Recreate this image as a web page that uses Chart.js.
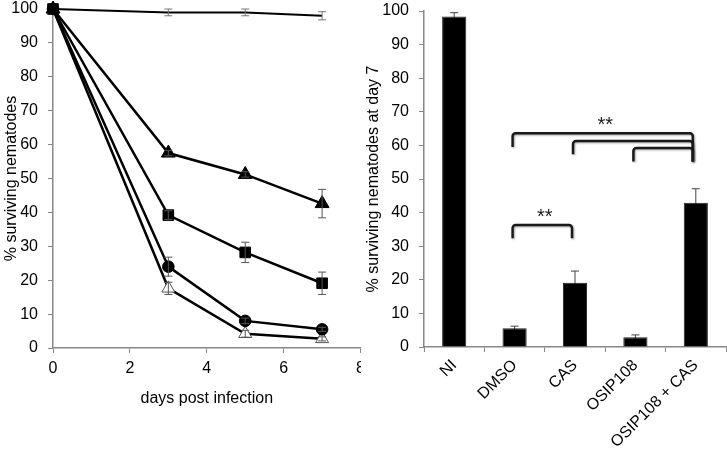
<!DOCTYPE html>
<html>
<head>
<meta charset="utf-8">
<script src="https://cdn.jsdelivr.net/npm/chart.js@4.4.1/dist/chart.umd.min.js"></script>
<style>
  body { margin: 0; background: #fff; }
  #wrap { position: relative; width: 727px; height: 449px; overflow: hidden; }
  #leftBox { position: absolute; left: 0; top: 0; width: 361px; height: 449px; overflow: hidden; }
  #barChart { position: absolute; top: 0; left: 362px; }
</style>
</head>
<body>
<div id="wrap">
  <div id="leftBox"><canvas id="lineChart" width="371" height="449"></canvas></div>
  <canvas id="barChart" width="365" height="449"></canvas>
</div>
<script>
// survival over time (left panel)
const days = [0, 3, 5, 7];
const niSurvival = [100, 99, 99, 98];
const niErr = [0, 1, 1, 1.2];
const osipCasSurvival = [100, 57.5, 51.2, 42.6];
const osipCasErr = [0, 0.8, 0.8, 4.2];
const casSurvival = [100, 39.2, 28.2, 19.1];
const casErr = [0, 1.3, 3, 3.3];
const dmsoSurvival = [100, 24, 8, 5.5];
const dmsoErr = [0, 2.8, 0.8, 0.6];
const osipSurvival = [100, 17.6, 4.2, 2.7];
const osipErr = [0, 1.8, 1, 0.6];

// survival at day 7 (right panel)
const barLabels = ['NI', 'DMSO', 'CAS', 'OSIP108', 'OSIP108 + CAS'];
const barValues = [98.4, 5.6, 19.1, 2.9, 42.9];
const barErr = [1.1, 0.6, 3.5, 0.7, 4.2];

// significance brackets (category index, value units)
const bracketFrom = [1, 2, 3, 1];
const bracketTo = [4, 4, 4, 2];
const bracketTop = [63.6, 61.3, 59.2, 36.3];
const bracketLeftEnd = [59.5, 57.4, 55.2, 32.4];
const bracketRightEnd = [55.2, 55.2, 55.2, 32.4];
const starLabels = ['**', '**'];
const starAt = [2.5, 1.5];
const starValue = [64.4, 36.8];

Chart.defaults.font.family = '"Liberation Sans", Arial, sans-serif';
Chart.defaults.font.size = 16;
Chart.defaults.color = '#000';
Chart.defaults.animation = false;

function pts(vals) {
    return days.map((d, i) => ({x: d, y: vals[i]}));
}

// error bars from dataset.errors, positioned with the chart's own scales
function drawErrors(chart) {
    const ctx = chart.ctx;
    const y = chart.scales.y;
    chart.data.datasets.forEach((ds, di) => {
        if (!ds.errors) return;
        const meta = chart.getDatasetMeta(di);
        meta.data.forEach((el, i) => {
            const e = ds.errors[i];
            if (!e) return;
            const v = ds.data[i].y !== undefined ? ds.data[i].y : ds.data[i];
            const top = y.getPixelForValue(v + e);
            const bot = y.getPixelForValue(v - e);
            ctx.save();
            ctx.strokeStyle = ds.errorColor || '#555';
            ctx.lineWidth = 1;
            ctx.beginPath();
            ctx.moveTo(el.x, top);
            ctx.lineTo(el.x, bot);
            ctx.moveTo(el.x - 4, top);
            ctx.lineTo(el.x + 4, top);
            ctx.moveTo(el.x - 4, bot);
            ctx.lineTo(el.x + 4, bot);
            ctx.stroke();
            ctx.restore();
        });
    });
}

const errorsOnTop = {id: 'errorsOnTop', afterDatasetsDraw: drawErrors};
const errorsBehind = {id: 'errorsBehind', beforeDatasetsDraw: drawErrors};

const brackets = {
    id: 'brackets',
    afterDatasetsDraw(chart) {
        const ctx = chart.ctx;
        const xs = chart.scales.x, ys = chart.scales.y;
        ctx.save();
        ctx.strokeStyle = '#1a1a1a';
        ctx.lineWidth = 2.5;
        ctx.lineJoin = 'round';
        ctx.shadowColor = 'rgba(0,0,0,0.35)';
        ctx.shadowBlur = 2;
        ctx.shadowOffsetX = 1;
        ctx.shadowOffsetY = 1;
        bracketFrom.forEach((f, i) => {
            const x1 = xs.getPixelForValue(f) - 2;
            const x2 = xs.getPixelForValue(bracketTo[i]) - 3;
            const yt = ys.getPixelForValue(bracketTop[i]);
            ctx.beginPath();
            ctx.moveTo(x1, ys.getPixelForValue(bracketLeftEnd[i]));
            ctx.arcTo(x1, yt, x2, yt, 3);
            ctx.arcTo(x2, yt, x2, ys.getPixelForValue(bracketRightEnd[i]), 3);
            ctx.lineTo(x2, ys.getPixelForValue(bracketRightEnd[i]));
            ctx.stroke();
        });
        ctx.shadowColor = 'transparent';
        ctx.fillStyle = '#222';
        ctx.font = '20px "Liberation Sans", Arial, sans-serif';
        ctx.textAlign = 'center';
        ctx.textBaseline = 'alphabetic';
        starLabels.forEach((s, i) => {
            ctx.fillText(s, xs.getPixelForValue(starAt[i]), ys.getPixelForValue(starValue[i]));
        });
        ctx.restore();
    }
};

const axisGrid = {drawOnChartArea: false, drawTicks: true, tickLength: 5, color: '#888'};
const axisBorder = {display: true, color: '#888', width: 1.5};

new Chart(document.getElementById('lineChart'), {
    type: 'scatter',
    data: {
        datasets: [
            {
                data: pts(niSurvival), errors: niErr, errorColor: '#777',
                showLine: true, borderColor: '#000', borderWidth: 2, pointRadius: 0
            },
            {
                data: pts(osipCasSurvival), errors: osipCasErr,
                showLine: true, borderColor: '#000', borderWidth: 2.5,
                pointStyle: 'triangle', pointRadius: 8, pointBackgroundColor: '#000', pointBorderWidth: 1
            },
            {
                data: pts(dmsoSurvival), errors: dmsoErr,
                showLine: true, borderColor: '#000', borderWidth: 2.5,
                pointStyle: 'circle', pointRadius: 5.8, pointBackgroundColor: '#000', pointBorderWidth: 1
            },
            {
                data: pts(osipSurvival), errors: osipErr,
                showLine: true, borderColor: '#000', borderWidth: 2.5,
                pointStyle: 'triangle', pointRadius: 7.5, pointBackgroundColor: '#fff',
                pointBorderColor: '#555', pointBorderWidth: 1
            },
            {
                data: pts(casSurvival), errors: casErr,
                showLine: true, borderColor: '#000', borderWidth: 2.5,
                pointStyle: 'rect', pointRadius: 7.5, pointBackgroundColor: '#000', pointBorderWidth: 1
            }
        ]
    },
    options: {
        responsive: false,
        clip: false,
        layout: {padding: {top: 7, right: 0, left: 0, bottom: 0}},
        plugins: {legend: {display: false}, tooltip: {enabled: false}},
        scales: {
            x: {
                type: 'linear', min: 0, max: 8,
                ticks: {stepSize: 2, padding: 6},
                grid: axisGrid, border: axisBorder,
                title: {display: true, text: 'days post infection', font: {size: 16}, padding: {top: 0, bottom: 41}},
                afterFit(s) { s.height = 101; }
            },
            y: {
                min: 0, max: 100,
                ticks: {stepSize: 10, padding: 10},
                grid: axisGrid, border: axisBorder,
                title: {display: true, text: '% surviving nematodes', font: {size: 16}, padding: {top: 2, bottom: 0}},
                afterFit(s) { s.width = 53; s.paddingTop = 0; s.paddingBottom = 0; }
            }
        }
    },
    plugins: [errorsOnTop]
});

new Chart(document.getElementById('barChart'), {
    type: 'bar',
    data: {
        labels: barLabels,
        datasets: [{
            data: barValues, errors: barErr, errorColor: '#444',
            backgroundColor: '#000', borderColor: '#222', borderWidth: 1,
            barPercentage: 0.4, categoryPercentage: 1.0
        }]
    },
    options: {
        responsive: false,
        layout: {padding: {top: 11, right: 1, left: 0, bottom: 0}},
        plugins: {legend: {display: false}, tooltip: {enabled: false}},
        scales: {
            x: {
                ticks: {minRotation: 45, maxRotation: 45, autoSkip: false, padding: 4},
                grid: axisGrid, border: axisBorder,
                afterFit(s) { s.height = 102; s.paddingLeft = 0; s.paddingRight = 0; }
            },
            y: {
                min: 0, max: 100,
                ticks: {stepSize: 10, padding: 10},
                grid: axisGrid, border: axisBorder,
                title: {display: true, text: '% surviving nematodes at day 7', font: {size: 16}, padding: {top: 2, bottom: 0}},
                afterFit(s) { s.width = 62; s.paddingTop = 0; s.paddingBottom = 0; }
            }
        }
    },
    plugins: [errorsBehind, brackets]
});
</script>
</body>
</html>
